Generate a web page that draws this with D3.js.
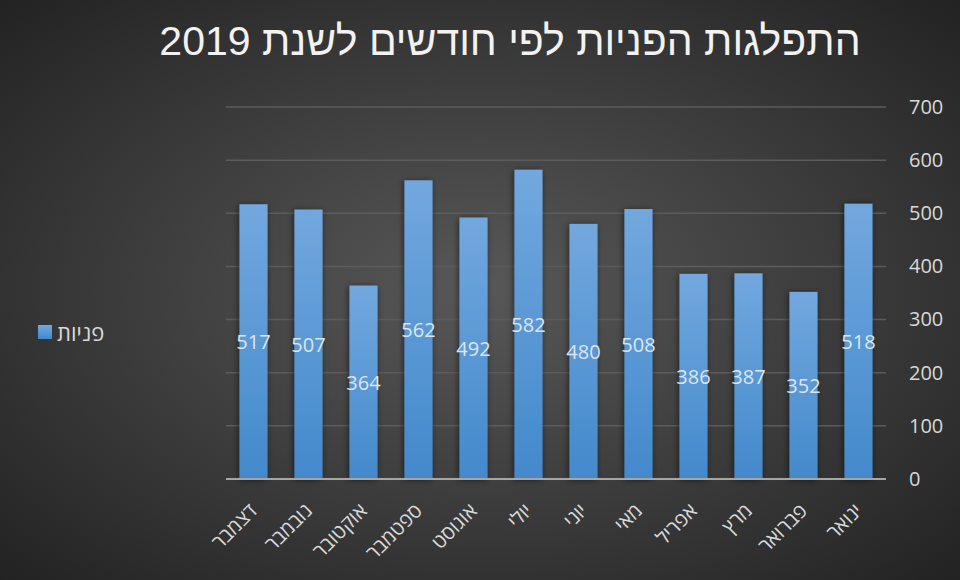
<!DOCTYPE html>
<html><head><meta charset="utf-8">
<script src="https://cdn.jsdelivr.net/npm/d3@7"></script>
<style>html,body{margin:0;padding:0;background:#2a2a2a;}svg{display:block;}</style>
</head><body>
<script>
const months = ["ינואר","פברואר","מרץ","אפריל","מאי","יוני","יולי","אוגוסט","ספטמבר","אוקטובר","נובמבר","דצמבר"];
const values = [518,352,387,386,508,480,582,492,562,364,507,517];
const yTicks = [0,100,200,300,400,500,600,700];
const seriesName = "פניות";
const title = "התפלגות הפניות לפי חודשים לשנת 2019";

const W=960,H=580;
const svg=d3.select("body").append("svg").attr("width",W).attr("height",H);
const defs=svg.append("defs");
const bg=defs.append("radialGradient").attr("id","bg").attr("cx","50%").attr("cy","50%").attr("r","75%");
bg.append("stop").attr("offset","0%").attr("stop-color","#585858");
bg.append("stop").attr("offset","100%").attr("stop-color","#1f1f1f");
const bar=defs.append("linearGradient").attr("id","barg").attr("x1",0).attr("y1",0).attr("x2",0).attr("y2",1);
bar.append("stop").attr("offset","0%").attr("stop-color","#72a8de");
bar.append("stop").attr("offset","100%").attr("stop-color","#4389cc");
const f=defs.append("filter").attr("id","sh").attr("x","-50%").attr("y","-20%").attr("width","200%").attr("height","140%");
f.append("feDropShadow").attr("dx",-1).attr("dy",1).attr("stdDeviation",3).attr("flood-color","#000").attr("flood-opacity",0.55);

svg.append("rect").attr("width",W).attr("height",H).attr("fill","url(#bg)");

const L=226,R=886,T=107,B=479;
const x=d3.scaleBand().domain(months).range([R,L]).paddingInner(0.49).paddingOuter(0.245);
const y=d3.scaleLinear().domain([0,700]).range([B,T]);

// gridlines
svg.append("g").selectAll("line").data(yTicks.filter(d=>d>0)).join("line")
  .attr("x1",L).attr("x2",R).attr("y1",d=>y(d)).attr("y2",d=>y(d))
  .attr("stroke","#5c5c5c").attr("stroke-width",1.5);

// y axis on right
const yAxis=d3.axisRight(y).tickValues(yTicks).tickSize(0).tickPadding(0);
const ya=svg.append("g").attr("transform",`translate(${909},0)`).call(yAxis);
ya.select(".domain").remove();
ya.selectAll("text").attr("fill","#d9d9d9").style("font-family","'Open Sans','DejaVu Sans',sans-serif").style("font-size","20px").attr("x",0);

// bars
svg.append("g").attr("filter","url(#sh)").selectAll("rect").data(months).join("rect")
  .attr("x",d=>x(d)).attr("width",x.bandwidth())
  .attr("y",(d,i)=>y(values[i])).attr("height",(d,i)=>B-y(values[i]))
  .attr("fill","url(#barg)");

// baseline
svg.append("line").attr("x1",L).attr("x2",R).attr("y1",B).attr("y2",B).attr("stroke","#a6a6a6").attr("stroke-width",2);

// value labels
svg.append("g").selectAll("text").data(months).join("text")
  .attr("x",d=>x(d)+x.bandwidth()/2).attr("y",(d,i)=>(y(values[i])+B)/2)
  .attr("text-anchor","middle").attr("dominant-baseline","central")
  .attr("fill","#dde6f0").style("font-family","'Open Sans','DejaVu Sans',sans-serif").style("font-size","20px")
  .text((d,i)=>values[i]);

// x axis labels
const xAxis=d3.axisBottom(x).tickSize(0).tickPadding(0);
const xa=svg.append("g").attr("transform",`translate(0,${B})`).call(xAxis);
xa.select(".domain").remove();
xa.selectAll("text").attr("fill","#d9d9d9").style("font-family","'Open Sans','DejaVu Sans',sans-serif").style("font-size","20px")
  .attr("text-anchor","end").attr("dy",0).attr("y",0)
  .attr("transform","translate(5,33) rotate(-45)");

// title
svg.append("text").attr("x",510).attr("y",55).attr("text-anchor","middle")
  .attr("fill","#f2f2f2").style("font-family","'Liberation Sans',Arial,sans-serif").style("font-size","41px")
  .text(title);

// legend
svg.append("rect").attr("x",38).attr("y",325).attr("width",14).attr("height",14).attr("fill","url(#barg)");
svg.append("text").attr("x",57).attr("y",332).attr("dominant-baseline","central")
  .attr("fill","#d9d9d9").style("font-family","'Open Sans','DejaVu Sans',sans-serif").style("font-size","22px")
  .text(seriesName);
</script>
</body></html>
